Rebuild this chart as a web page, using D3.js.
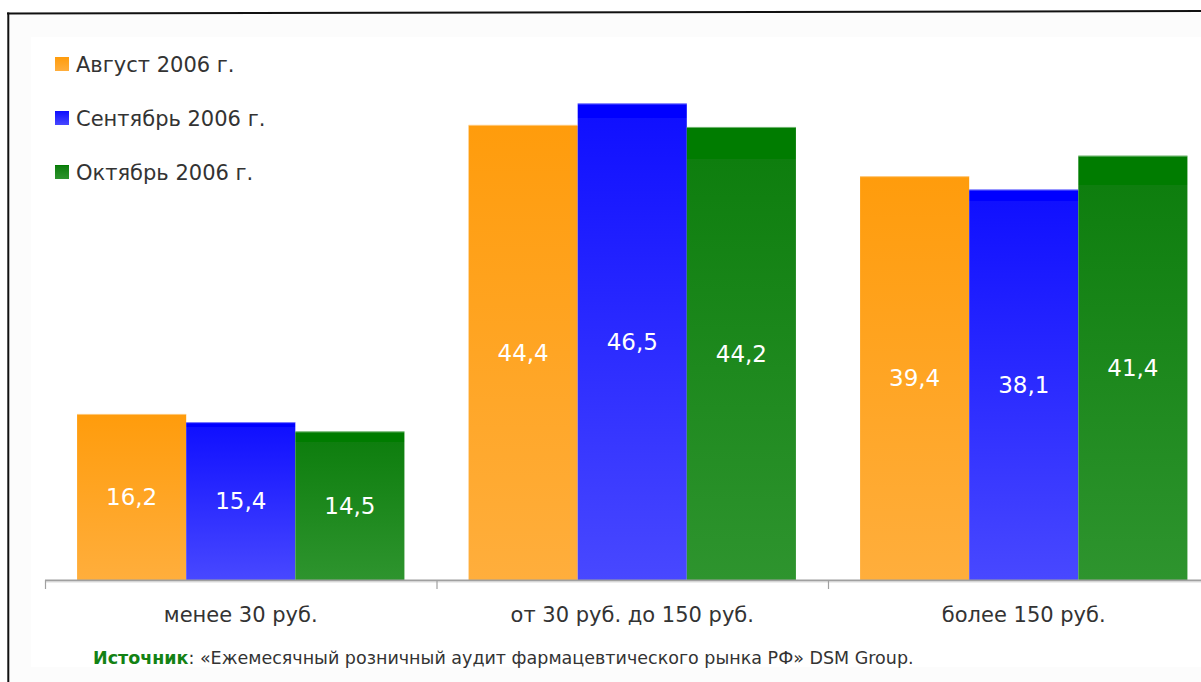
<!DOCTYPE html>
<html>
<head>
<meta charset="utf-8">
<script src="https://cdn.jsdelivr.net/npm/d3@7"></script>
<style>
  html, body { margin: 0; padding: 0; background: #ffffff; }
  svg { display: block; }
  text { font-family: "DejaVu Sans", Verdana, sans-serif; }
</style>
</head>
<body>
<svg id="chart" width="1201" height="682"></svg>
<script>
// Price segments of the retail pharmacy market, share of sales, %
const categories = ["менее 30 руб.", "от 30 руб. до 150 руб.", "более 150 руб."];
const seriesNames = ["Август 2006 г.", "Сентябрь 2006 г.", "Октябрь 2006 г."];
const august = [16.2, 44.4, 39.4];
const september = [15.4, 46.5, 38.1];
const october = [14.5, 44.2, 41.4];
const sourceLabel = "Источник";
const sourceText = ": «Ежемесячный розничный аудит фармацевтического рынка РФ» DSM Group.";

const seriesValues = [august, september, october];

// top colour, stepped colour below the top band, bottom colour, band fraction
const palette = [
  { top: "#ff9900", step: "#ff9c0c", bottom: "#ffae3c", band: 0.0 },
  { top: "#0000ff", step: "#1010ff", bottom: "#4848ff", band: 0.03 },
  { top: "#007c00", step: "#0e7e0e", bottom: "#2e942e", band: 0.07 }
];

const svg = d3.select("#chart");
const W = 1201, H = 682;

// outer frame background
svg.append("rect").attr("x", 0).attr("y", 0).attr("width", W).attr("height", H).attr("fill", "#ffffff");
svg.append("rect").attr("x", 8).attr("y", 13).attr("width", W).attr("height", H)
  .attr("fill", "#fcfcfc");
svg.append("rect").attr("x", 31).attr("y", 37).attr("width", W).attr("height", 630)
  .attr("fill", "#ffffff");

// frame lines (top and left)
svg.append("line").attr("x1", 7).attr("y1", 13.5).attr("x2", W).attr("y2", 11)
  .attr("stroke", "#111").attr("stroke-width", 2);
svg.append("line").attr("x1", 8.3).attr("y1", 12.5).attr("x2", 8.3).attr("y2", H)
  .attr("stroke", "#111").attr("stroke-width", 2);

// gradients
const defs = svg.append("defs");
palette.forEach((p, i) => {
  const g = defs.append("linearGradient").attr("id", "grad" + i)
    .attr("x1", 0).attr("y1", 0).attr("x2", 0).attr("y2", 1);
  g.append("stop").attr("offset", 0).attr("stop-color", p.top);
  g.append("stop").attr("offset", p.band).attr("stop-color", p.top);
  g.append("stop").attr("offset", p.band).attr("stop-color", p.step);
  g.append("stop").attr("offset", 1).attr("stop-color", p.bottom);
});

// scales
const x0 = d3.scaleBand().domain(categories).range([45, 45 + 391.5 * 3]).paddingInner(0).paddingOuter(0);
const x1 = d3.scaleBand().domain(d3.range(seriesNames.length)).range([0, x0.bandwidth()])
  .paddingOuter(0.294).paddingInner(0);
const y = d3.scaleLinear().domain([0, 50]).range([580, 67.5]);

// bars
const groups = svg.append("g").selectAll("g")
  .data(categories)
  .join("g")
  .attr("transform", d => `translate(${x0(d)},0)`);

groups.each(function (cat, ci) {
  const g = d3.select(this);
  const rows = seriesValues.map((vals, si) => ({ si, v: vals[ci] }));
  g.selectAll("rect.bar").data(rows).join("rect")
    .attr("class", "bar")
    .attr("x", d => x1(d.si))
    .attr("y", d => y(d.v))
    .attr("width", x1.bandwidth())
    .attr("height", d => y(0) - y(d.v))
    .attr("fill", d => `url(#grad${d.si})`);
  // faint light edge on top of each bar
  g.selectAll("line.edge").data(rows).join("line")
    .attr("class", "edge")
    .attr("x1", d => x1(d.si)).attr("x2", d => x1(d.si) + x1.bandwidth())
    .attr("y1", d => y(d.v) + 0.5).attr("y2", d => y(d.v) + 0.5)
    .attr("stroke", "#ffffff").attr("stroke-opacity", 0.45).attr("stroke-width", 1);
  g.selectAll("text.val").data(rows).join("text")
    .attr("class", "val")
    .attr("x", d => x1(d.si) + x1.bandwidth() / 2)
    .attr("y", d => (y(d.v) + y(0)) / 2)
    .attr("dy", "0.36em")
    .attr("text-anchor", "middle")
    .attr("fill", "#ffffff")
    .attr("font-size", 23)
    .text(d => d3.format(".1f")(d.v).replace(".", ","));
});

// category axis
const axis = svg.append("g");
axis.append("line").attr("x1", 45).attr("x2", W).attr("y1", 580.5).attr("y2", 580.5)
  .attr("stroke", "#a0a0a0").attr("stroke-width", 2);
axis.append("line").attr("x1", 45).attr("x2", W).attr("y1", 582).attr("y2", 582)
  .attr("stroke", "#dcdcdc").attr("stroke-width", 1);
const tickXs = categories.map(c => x0(c)).concat([x0(categories[2]) + x0.bandwidth()]);
axis.selectAll("line.tick").data(tickXs).join("line")
  .attr("class", "tick")
  .attr("x1", d => d + 0.5).attr("x2", d => d + 0.5)
  .attr("y1", 580).attr("y2", 589)
  .attr("stroke", "#a0a0a0").attr("stroke-width", 1.2);
axis.selectAll("text.cat").data(categories).join("text")
  .attr("class", "cat")
  .attr("x", d => x0(d) + x0.bandwidth() / 2)
  .attr("y", 622)
  .attr("text-anchor", "middle")
  .attr("fill", "#333333")
  .attr("font-size", 21)
  .text(d => d);

// legend
const legend = svg.append("g");
seriesNames.forEach((name, i) => {
  const ly = 64 + i * 54;
  legend.append("rect").attr("x", 55).attr("y", ly - 7).attr("width", 14).attr("height", 14)
    .attr("fill", `url(#grad${i})`);
  legend.append("text").attr("x", 76).attr("y", ly).attr("dy", "0.36em")
    .attr("fill", "#333333").attr("font-size", 21).text(name);
});

// source line
const src = svg.append("text").attr("x", 93).attr("y", 664).attr("font-size", 17.5).attr("fill", "#333333");
src.append("tspan").attr("font-weight", "bold").attr("fill", "#148214").text(sourceLabel);
src.append("tspan").text(sourceText);
</script>
</body>
</html>
